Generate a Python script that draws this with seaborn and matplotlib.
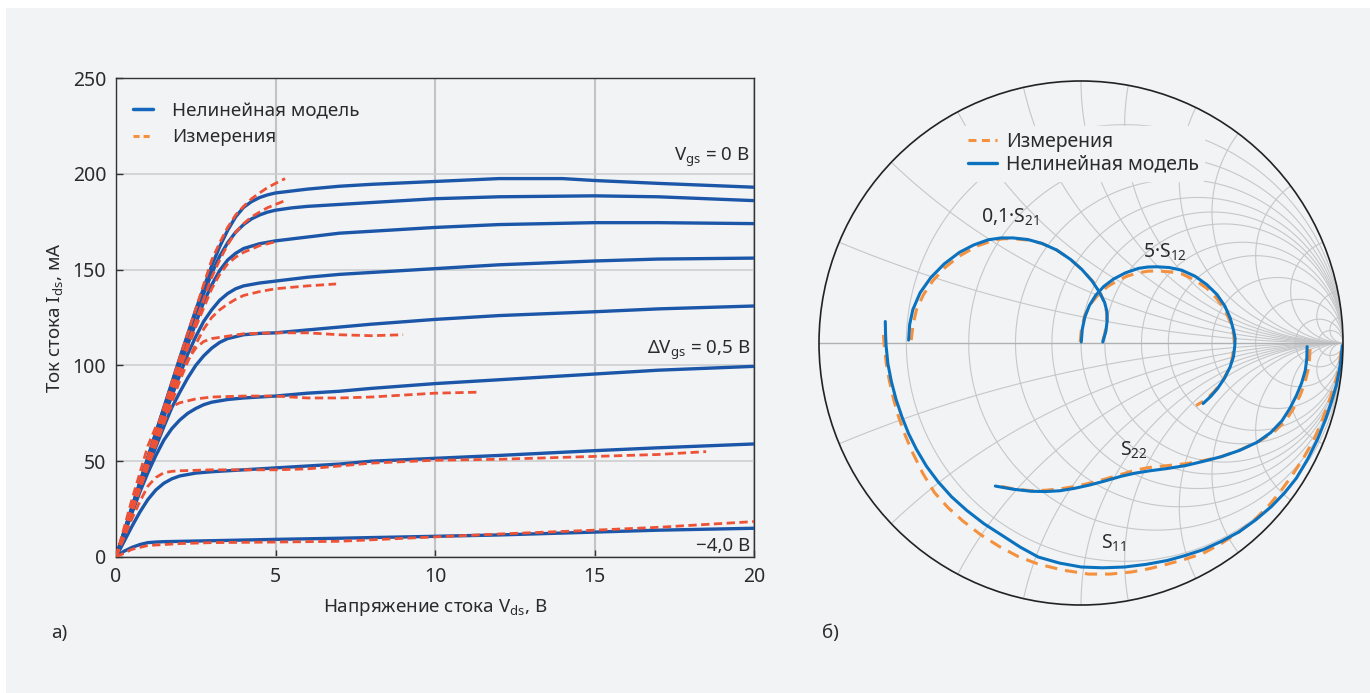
import numpy as np
import matplotlib
matplotlib.use("Agg")
import matplotlib.pyplot as plt
import seaborn as sns
from matplotlib.patches import Rectangle, Circle
from matplotlib.lines import Line2D

sns.set_theme(style="white")
plt.rcParams['font.family'] = ['Noto Sans', 'DejaVu Sans']
plt.rcParams['mathtext.fontset'] = 'custom'
plt.rcParams['mathtext.rm'] = 'Noto Sans'
plt.rcParams['mathtext.it'] = 'Noto Sans:italic'
plt.rcParams['mathtext.bf'] = 'Noto Sans:bold'

BG = '#f2f3f5'
TXT = '#2b2b2b'
BLUE_L = '#1b56a8'
RED_L = '#ee5236'
BLUE_R = '#0a72bf'
ORANGE_R = '#f4913f'

# ---------------- Left panel: I-V curves (Vds in V, Id in mA) ----------------
vds_m1 = [0, 1, 2, 2.5, 3, 3.25, 3.5, 3.75, 4, 4.25, 4.5, 4.75, 5, 5.5, 6, 7, 8, 10, 12, 14, 15, 17, 20]
id_m1 = [0, 52, 104, 129, 152, 162, 170.5, 177.5, 182.5, 185.5, 187.6, 189, 190, 191, 192, 193.5, 194.5, 196, 197.5, 197.5, 196.5, 195, 193]
vds_m2 = [0, 1, 2, 2.5, 3, 3.25, 3.5, 3.75, 4, 4.25, 4.5, 4.75, 5, 5.5, 6, 7, 8, 10, 12, 15, 17, 20]
id_m2 = [0, 52, 103, 127, 148, 157, 164, 169.5, 173.5, 176.5, 178.5, 180, 181, 182.2, 183, 184, 185, 187, 188, 188.5, 188, 186]
vds_m3 = [0, 1, 2, 2.5, 2.75, 3, 3.25, 3.5, 3.75, 4, 4.5, 5, 6, 7, 8, 10, 12, 15, 17, 20]
id_m3 = [0, 51, 100, 122, 133, 142, 149.5, 155, 158.5, 161, 163.5, 165, 167, 169, 170, 172, 173.5, 174.5, 174.5, 174]
vds_m4 = [0, 1, 1.5, 2, 2.25, 2.5, 2.75, 3, 3.25, 3.5, 3.75, 4, 4.5, 5, 6, 7, 8, 10, 12, 15, 17, 20]
id_m4 = [0, 49, 73, 95, 106, 115, 123, 129, 134, 137.5, 140, 141.5, 143, 144, 146, 147.5, 148.5, 150.5, 152.5, 154.5, 155.5, 156]
vds_m5 = [0, 1, 1.5, 1.75, 2, 2.25, 2.5, 2.75, 3, 3.25, 3.5, 4, 4.5, 5, 6, 7, 8, 10, 12, 15, 17, 20]
id_m5 = [0, 47, 68, 78, 86, 93.5, 100, 105, 109, 112, 114, 116, 116.7, 117, 118.5, 120, 121.5, 124, 126, 128, 129.5, 131]
vds_m6 = [0, 0.5, 0.75, 1, 1.25, 1.5, 1.75, 2, 2.25, 2.5, 2.75, 3, 3.5, 4, 5, 6, 7, 8, 10, 12, 15, 17, 20]
id_m6 = [0, 23, 34, 44, 53, 61, 67, 71.5, 75, 77.5, 79.5, 80.8, 82.2, 83, 84, 85.5, 86.5, 88, 90.5, 92.5, 95.5, 97.5, 99.5]
vds_m7 = [0, 0.5, 0.75, 1, 1.25, 1.5, 1.75, 2, 2.5, 3, 4, 5, 6, 7, 8, 10, 12, 15, 17, 20]
id_m7 = [0, 16, 23.5, 30, 35, 38.5, 40.8, 42.3, 43.8, 44.5, 45.5, 46.5, 47.5, 48.5, 50, 51.5, 53, 55.5, 57, 59]
vds_m8 = [0, 0.25, 0.5, 0.75, 1, 1.25, 1.5, 3, 5, 7, 10, 12, 15, 17, 20]
id_m8 = [0, 3, 5, 6.5, 7.5, 7.8, 8, 8.5, 9.2, 9.8, 10.8, 11.5, 13, 14, 15]

vds_e1 = [0, 1, 2, 3, 3.25, 3.5, 3.75, 4, 4.25, 4.5, 4.75, 5, 5.3]
id_e1 = [0, 52, 104, 155, 164, 172, 178.5, 183, 187, 190, 192.8, 195, 197.5]
vds_e2 = [0, 1, 2, 3, 3.25, 3.5, 3.75, 4, 4.25, 4.5, 4.75, 5, 5.3]
id_e2 = [0, 51, 100, 146, 155, 163, 169.5, 174, 177.5, 180, 182.3, 184, 186]
vds_e3 = [0, 1, 2, 2.5, 3, 3.25, 3.5, 3.75, 4, 4.5, 5]
id_e3 = [0, 50, 98, 120, 140, 147.5, 153, 156.5, 159, 162.5, 164.5]
vds_e4 = [0, 1, 2, 2.25, 2.5, 2.75, 3, 3.25, 3.5, 3.75, 4, 4.5, 5, 6, 6.9]
id_e4 = [0, 47, 92, 102, 111, 119, 125, 129, 132, 134.5, 136.5, 138.5, 140, 141.5, 142.5]
vds_e5 = [0, 1, 1.5, 2, 2.25, 2.5, 2.75, 3, 4, 5, 6, 7, 8, 9]
id_e5 = [0, 48, 72, 95, 103, 109, 112.5, 114, 116.5, 117, 117, 116, 115.5, 116]
vds_e6 = [0, 0.5, 1, 1.25, 1.5, 1.75, 2, 2.5, 3, 4, 5, 6, 7, 8, 9, 10, 11.3]
id_e6 = [0, 30, 58, 68, 74, 78.5, 80.5, 82.5, 83.5, 84, 84, 83, 83, 83.5, 84.5, 85.5, 86]
vds_e7 = [0, 0.5, 0.75, 1, 1.25, 1.5, 1.75, 2, 3, 5, 6, 7, 8, 10, 12, 15, 17, 18.5]
id_e7 = [0, 20, 29, 37, 41.5, 44, 44.7, 45, 45.5, 45.5, 46, 47.5, 49, 50.5, 51, 52.5, 53.5, 55]
vds_e8 = [0, 0.5, 1, 2, 3, 5, 7, 10, 12, 15, 17, 20]
id_e8 = [0, 4, 6, 7, 7.5, 7.8, 8.2, 10.5, 12, 14, 15.5, 18.5]

x_ticks = [0, 5, 10, 15, 20]
y_ticks = [0, 50, 100, 150, 200, 250]

# ---------------- Right panel: Smith chart (reflection coefficient) ----------------
s21_m_re = [-0.658, -0.654, -0.642, -0.614, -0.573, -0.522, -0.464, -0.410, -0.354, -0.305, -0.259, -0.203,
            -0.149, -0.093, -0.040, 0.003, 0.042, 0.070, 0.090, 0.099, 0.100, 0.095, 0.083]
s21_m_im = [0.011, 0.070, 0.127, 0.192, 0.250, 0.302, 0.346, 0.374, 0.394, 0.401, 0.401, 0.395,
            0.380, 0.355, 0.319, 0.281, 0.237, 0.195, 0.155, 0.120, 0.086, 0.045, 0.004]
s21_e_re = [-0.648, -0.641, -0.628, -0.601, -0.566, -0.518, -0.464, -0.397, -0.327, -0.293, -0.259, -0.203,
            -0.149, -0.093, -0.040, 0.007, 0.049, 0.076, 0.094, 0.099, 0.097, 0.091, 0.081]
s21_e_im = [0.011, 0.070, 0.127, 0.185, 0.237, 0.289, 0.332, 0.370, 0.394, 0.398, 0.398, 0.393,
            0.380, 0.355, 0.319, 0.277, 0.230, 0.186, 0.141, 0.107, 0.073, 0.037, 0.000]

s12_m_re = [0.001, 0.005, 0.015, 0.032, 0.056, 0.087, 0.124, 0.170, 0.220, 0.255, 0.289, 0.337, 0.384, 0.435,
            0.480, 0.519, 0.549, 0.570, 0.583, 0.588, 0.587, 0.582, 0.569, 0.548, 0.521, 0.495, 0.466]
s12_m_im = [0.004, 0.053, 0.100, 0.143, 0.182, 0.216, 0.244, 0.268, 0.285, 0.290, 0.291, 0.288, 0.278, 0.255,
            0.223, 0.185, 0.141, 0.094, 0.045, 0.018, -0.010, -0.052, -0.092, -0.134, -0.174, -0.204, -0.231]
s12_e_re = [-0.003, 0.002, 0.015, 0.038, 0.070, 0.102, 0.138, 0.178, 0.220, 0.255, 0.289, 0.337, 0.384, 0.434,
            0.480, 0.518, 0.549, 0.570, 0.583, 0.585, 0.583, 0.576, 0.562, 0.538, 0.507, 0.475, 0.439]
s12_e_im = [0.004, 0.057, 0.107, 0.151, 0.189, 0.216, 0.237, 0.256, 0.268, 0.274, 0.275, 0.272, 0.264, 0.241,
            0.209, 0.170, 0.127, 0.080, 0.031, 0.004, -0.023, -0.065, -0.105, -0.148, -0.187, -0.217, -0.239]

s22_m_re = [0.863, 0.862, 0.856, 0.842, 0.822, 0.797, 0.767, 0.724, 0.672, 0.605, 0.535, 0.466, 0.398,
            0.330, 0.261, 0.205, 0.152, 0.090, 0.029, -0.026, -0.081, -0.135, -0.190, -0.260, -0.327]
s22_m_im = [-0.014, -0.060, -0.105, -0.153, -0.201, -0.250, -0.297, -0.342, -0.379, -0.410, -0.434, -0.452, -0.468,
            -0.479, -0.488, -0.497, -0.509, -0.527, -0.543, -0.555, -0.564, -0.567, -0.566, -0.558, -0.546]
s22_e_re = [0.874, 0.872, 0.866, 0.854, 0.836, 0.811, 0.781, 0.737, 0.685, 0.612, 0.535, 0.466, 0.398,
            0.330, 0.261, 0.205, 0.152, 0.090, 0.029, -0.026, -0.081, -0.135, -0.190, -0.260, -0.327]
s22_e_im = [-0.023, -0.065, -0.105, -0.153, -0.201, -0.250, -0.297, -0.339, -0.372, -0.406, -0.434, -0.449, -0.461,
            -0.468, -0.475, -0.486, -0.502, -0.520, -0.536, -0.548, -0.557, -0.562, -0.564, -0.556, -0.543]

s11_m_re = [-0.747, -0.746, -0.744, -0.737, -0.724, -0.706, -0.683, -0.658, -0.628, -0.590, -0.546, -0.494,
            -0.436, -0.370, -0.300, -0.232, -0.163, -0.082, 0.001, 0.083, 0.166, 0.248, 0.330, 0.398,
            0.466, 0.536, 0.603, 0.667, 0.726, 0.777, 0.822, 0.866, 0.904, 0.934, 0.959, 0.975, 0.986,
            0.993, 0.997]
s11_m_im = [0.082, 0.036, -0.010, -0.079, -0.146, -0.215, -0.283, -0.346, -0.406, -0.470, -0.529, -0.587,
            -0.639, -0.690, -0.735, -0.779, -0.817, -0.840, -0.855, -0.858, -0.855, -0.845, -0.830, -0.811,
            -0.789, -0.757, -0.721, -0.675, -0.625, -0.572, -0.516, -0.442, -0.365, -0.290, -0.215, -0.160,
            -0.105, -0.058, -0.010]
s11_e_re = [-0.754, -0.751, -0.743, -0.731, -0.715, -0.696, -0.671, -0.642, -0.604, -0.560, -0.508, -0.450,
            -0.384, -0.313, -0.240, -0.163, -0.068, 0.029, 0.111, 0.193, 0.262, 0.330, 0.398, 0.466,
            0.536, 0.603, 0.661, 0.713, 0.762, 0.808, 0.852, 0.891, 0.920, 0.945, 0.964, 0.979, 0.988, 0.993]
s11_e_im = [0.031, -0.010, -0.079, -0.146, -0.216, -0.283, -0.352, -0.420, -0.497, -0.570, -0.628, -0.680,
            -0.731, -0.776, -0.815, -0.844, -0.867, -0.882, -0.882, -0.874, -0.861, -0.844, -0.825, -0.803,
            -0.765, -0.721, -0.676, -0.625, -0.566, -0.502, -0.434, -0.365, -0.296, -0.228, -0.173, -0.119,
            -0.070, -0.023]

grid_r = [0.2, 0.4, 0.6, 0.8, 1.0, 1.2, 1.6, 2.0, 3.0, 5.0, 10.0, 20.0]
grid_x = [0.2, 0.4, 0.6, 0.8, 1.0, 1.2, 1.6, 2.0, 3.0, 5.0, 10.0, 20.0]

# ---------------- Figure ----------------
W, H = 1370, 693
fig = plt.figure(figsize=(W / 100, H / 100), dpi=100, facecolor='white')
fig.patches.append(Rectangle((6 / W, 0), 1 - 6 / W, 1 - 8 / H, transform=fig.transFigure,
                             facecolor=BG, edgecolor='none', zorder=-10))


def fx(px):
    return px / W


def fy(py):
    return 1 - py / H


FS_L = 13.5
FS_R = 14

# Left axes
ax = fig.add_axes([fx(116), fy(557), (754 - 116) / W, (557 - 78) / H])
ax.set_facecolor(BG)
ax.set_xlim(0, 20)
ax.set_ylim(0, 250)
ax.set_xticks(x_ticks)
ax.set_yticks(y_ticks)
ax.grid(True, axis='y', color='#cdced0', lw=1.2)
ax.grid(True, axis='x', color='#c2c3c5', lw=1.5)
ax.set_axisbelow(True)
for s in ax.spines.values():
    s.set_color('#333333')
    s.set_linewidth(1.0)
ax.tick_params(direction='in', length=5, width=1, color='#333333', labelsize=14,
               labelcolor=TXT, pad=7, left=True, bottom=True)

models = [(vds_m1, id_m1), (vds_m2, id_m2), (vds_m3, id_m3), (vds_m4, id_m4),
          (vds_m5, id_m5), (vds_m6, id_m6), (vds_m7, id_m7), (vds_m8, id_m8)]
meas = [(vds_e1, id_e1), (vds_e2, id_e2), (vds_e3, id_e3), (vds_e4, id_e4),
        (vds_e5, id_e5), (vds_e6, id_e6), (vds_e7, id_e7), (vds_e8, id_e8)]
for xv, yv in models:
    sns.lineplot(x=xv, y=yv, ax=ax, color=BLUE_L, lw=2.4, sort=False, estimator=None,
                 solid_joinstyle='round', solid_capstyle='butt', zorder=3)
for xv, yv in meas:
    sns.lineplot(x=xv, y=yv, ax=ax, color=RED_L, lw=2.0, sort=False, estimator=None,
                 zorder=4).lines[-1].set_dashes([3, 1.6])

ax.set_xlabel('Напряжение стока V$_{\\rm ds}$, В', fontsize=FS_L, color=TXT)
ax.set_ylabel('Ток стока I$_{\\rm ds}$, мА', fontsize=FS_L, color=TXT)
ax.xaxis.set_label_coords(0.5, -0.083)
ax.yaxis.set_label_coords(-0.08, 0.5)

leg_handles = [Line2D([], [], color='#1567bd', lw=2.5),
               Line2D([], [], color='#f4913f', lw=2.2, dashes=[2.0, 1.3])]
ax.legend(leg_handles, ['Нелинейная модель', 'Измерения'], loc='upper left',
          bbox_to_anchor=(fx(133), fy(102)), bbox_transform=fig.transFigure,
          frameon=False, fontsize=FS_L, handlelength=1.05, handletextpad=1.05,
          labelspacing=0.45, borderpad=0, borderaxespad=0, labelcolor=TXT)

fig.text(fx(750), fy(157), 'V$_{\\rm gs}$ = 0 В', ha='right', va='center', fontsize=FS_L, color=TXT)
fig.text(fx(750), fy(350), 'ΔV$_{\\rm gs}$ = 0,5 В', ha='right', va='center', fontsize=FS_L, color=TXT)
fig.text(fx(750), fy(546), '−4,0 В', ha='right', va='center', fontsize=FS_L, color=TXT)
fig.text(fx(51), fy(633), 'а)', ha='left', va='center', fontsize=FS_L, color=TXT)
fig.text(fx(822), fy(633), 'б)', ha='left', va='center', fontsize=FS_L, color=TXT)

# Smith chart axes
cx, cy, R = 1081, 343, 262
ax2 = fig.add_axes([fx(cx - R), fy(cy + R), 2 * R / W, 2 * R / H])
ax2.set_xlim(-1, 1)
ax2.set_ylim(-1, 1)
ax2.axis('off')
clip = Circle((0, 0), 1, transform=ax2.transData, facecolor='none', edgecolor='none')
ax2.add_patch(clip)
gcol = '#c6c7c9'
th = np.linspace(0, 2 * np.pi, 400)
for r in grid_r:
    c, rad = r / (1 + r), 1 / (1 + r)
    ln, = ax2.plot(c + rad * np.cos(th), rad * np.sin(th), color=gcol, lw=0.8, zorder=1)
    ln.set_clip_path(clip)
rr = np.concatenate([[0], np.logspace(-3, 3, 600)])
for xg in grid_x:
    for sgn in (1, -1):
        z = rr + 1j * sgn * xg
        g = (z - 1) / (z + 1)
        ln, = ax2.plot(g.real, g.imag, color=gcol, lw=0.8, zorder=1)
        ln.set_clip_path(clip)
ax2.plot([-1, 1], [0, 0], color='#b0b1b3', lw=1.0, zorder=1)
ax2.add_patch(Circle((0, 0), 1, facecolor='none', edgecolor='#222222', lw=1.2, zorder=5, clip_on=False))

pairs = [(s21_m_re, s21_m_im, s21_e_re, s21_e_im), (s12_m_re, s12_m_im, s12_e_re, s12_e_im),
         (s22_m_re, s22_m_im, s22_e_re, s22_e_im), (s11_m_re, s11_m_im, s11_e_re, s11_e_im)]
for mre, mim, ere, eim in pairs:
    sns.lineplot(x=ere, y=eim, ax=ax2, color=ORANGE_R, lw=2.2, sort=False, estimator=None,
                 zorder=3).lines[-1].set_dashes([4, 2.6])
    sns.lineplot(x=mre, y=mim, ax=ax2, color=BLUE_R, lw=2.2, sort=False, estimator=None,
                 solid_joinstyle='round', zorder=4)
ax2.set_xlim(-1, 1)
ax2.set_ylim(-1, 1)

h2 = [Line2D([], [], color=ORANGE_R, lw=2.2, dashes=[2.6, 1.8]),
      Line2D([], [], color=BLUE_R, lw=2.4)]
lg2 = ax2.legend(h2, ['Измерения', 'Нелинейная модель'], loc='upper left',
                 bbox_to_anchor=(fx(962), fy(126)), bbox_transform=fig.transFigure,
                 frameon=True, facecolor=BG, edgecolor=BG, framealpha=1, fontsize=FS_R,
                 handlelength=1.5, handletextpad=0.45, labelspacing=0.15, borderpad=0.3,
                 borderaxespad=0, labelcolor=TXT)
lg2.set_zorder(6)

fig.text(fx(1010), fy(217), '0,1·S$_{21}$', ha='center', va='center', fontsize=FS_R, color=TXT)
fig.text(fx(1165), fy(252), '5·S$_{12}$', ha='center', va='center', fontsize=FS_R, color=TXT)
fig.text(fx(1134), fy(450), 'S$_{22}$', ha='center', va='center', fontsize=FS_R, color=TXT)
fig.text(fx(1114), fy(543), 'S$_{11}$', ha='center', va='center', fontsize=FS_R, color=TXT)

fig.savefig('out.png', dpi=100, facecolor=fig.get_facecolor())
